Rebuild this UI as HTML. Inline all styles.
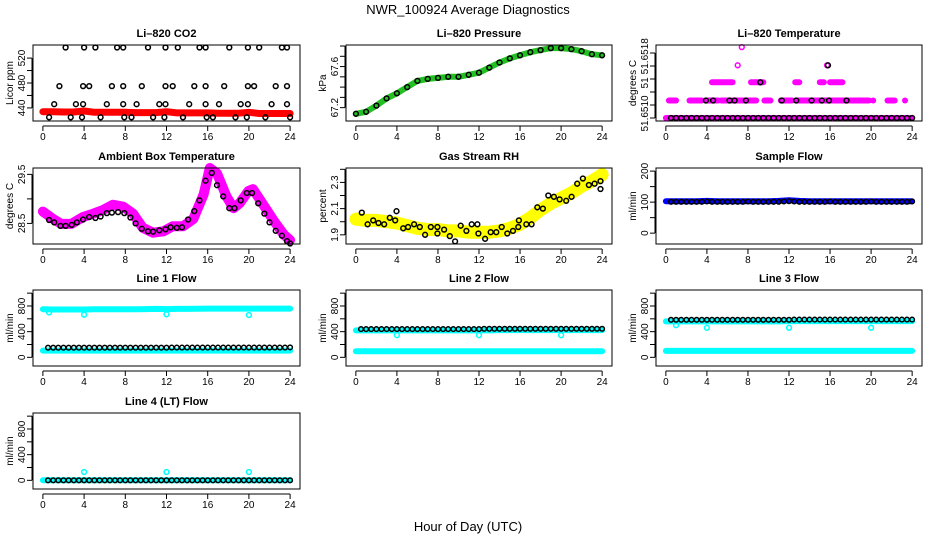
<!DOCTYPE html>
<html><head><meta charset="utf-8">
<style>
html,body{margin:0;padding:0;background:#fff;}
svg{display:block;font-family:"Liberation Sans",Arial,sans-serif;}
</style></head>
<body>
<svg id="chart" width="936" height="540" viewBox="0 0 936 540" xmlns="http://www.w3.org/2000/svg">
<rect width="936" height="540" fill="#fff"/>
<text x="468" y="14" text-anchor="middle" font-size="13">NWR_100924  Average Diagnostics</text>
<text x="468" y="531" text-anchor="middle" font-size="13">Hour of Day (UTC)</text>
</svg>
<script>
// ---------- data ----------
const xTicks = [0,4,8,12,16,20,24];
const hourly = [0,1,2,3,4,5,6,7,8,9,10,11,12,13,14,15,16,17,18,19,20,21,22,23,24];
const halfHours = [0.5,1,1.5,2,2.5,3,3.5,4,4.5,5,5.5,6,6.5,7,7.5,8,8.5,9,9.5,10,10.5,11,11.5,12,12.5,13,13.5,14,14.5,15,15.5,16,16.5,17,17.5,18,18.5,19,19.5,20,20.5,21,21.5,22,22.5,23,23.5,24];

// CO2
const co2RedVals = [434,434,433.5,433.5,435,433,433,433,433,432.5,432.5,432.5,434,432,432,432,432,431.5,431.5,431.5,433,431,431,431,431];
const co2BlackHours = [2.2,4.0,5.1,7.2,7.8,10.2,11.9,13.1,15.2,15.8,18.1,19.9,21.0,23.2,23.7,
 1.6,3.9,4.5,6.7,7.8,9.6,11.9,12.6,14.7,15.8,17.6,19.9,20.5,22.6,23.7,
 1.1,3.2,3.9,6.2,7.8,9.1,11.3,11.9,14.2,15.8,17.1,19.2,19.9,22.2,23.7,
 0.6,2.7,3.8,5.6,7.9,8.6,10.7,11.8,13.6,15.9,16.5,18.7,19.8,21.6,24.0];
const co2BlackVals = [537,537,537,537,537,537,537,537,537,537,537,537,537,537,537,
 475,475,475,475,475,475,475,475,475,475,475,475,475,475,475,
 446,446,446,446,446,446,446,446,446,446,446,446,446,446,446,
 425,425,425,425,425,425,425,425,425,425,425,425,425,425,425];

// Pressure
const pressVals = [67.14,67.16,67.22,67.29,67.34,67.40,67.46,67.48,67.49,67.50,67.50,67.52,67.54,67.59,67.64,67.68,67.71,67.74,67.76,67.78,67.78,67.77,67.75,67.72,67.71];

// Li-820 temperature (discrete levels)
const tempMagStart = [0,0.3,2.3,3.9,5.4,8.0,9.6,11.2,12.7,15.3,18.0,20.2,21.6,23.3,4.5,8.3,12.6,15.0,16.0];
const tempMagEnd   = [24,1.0,3.5,5.1,7.8,8.8,10.2,12.3,15.0,17.8,19.8,20.2,22.3,23.3,6.5,9.5,13.0,15.4,17.2];
const tempMagVals  = [51.6510,51.65127,51.65127,51.65127,51.65127,51.65127,51.65127,51.65127,51.65127,51.65127,51.65127,51.65127,51.65127,51.65127,51.65155,51.65155,51.65155,51.65155,51.65155];
const tempMagPtHours = [7.0,15.7,7.4];
const tempMagPtVals = [51.65181,51.65181,51.65209];
const tempBlackHours = [3.9,4.6,6.2,6.7,7.8,11.3,12.7,14.2,15.2,15.9,17.6,9.2,15.8];
const tempBlackVals = [51.65127,51.65127,51.65127,51.65127,51.65127,51.65127,51.65127,51.65127,51.65127,51.65127,51.65127,51.65155,51.65181];

// Ambient box temperature
const ambHours = [0,1,1.8,2.75,3.9,4.9,5.8,6.8,7.8,8.75,9.7,10.7,11.7,12.6,13.6,14.6,15.6,16.2,16.9,17.8,18.5,19.1,19.95,20.4,21.4,22.4,23.4,24];
const ambVals = [28.74,28.59,28.49,28.49,28.63,28.70,28.77,28.88,28.84,28.70,28.41,28.31,28.34,28.44,28.44,28.59,29.09,29.63,29.52,29.06,28.81,28.91,29.16,29.20,28.88,28.56,28.27,28.16];
const ambBlackHours = [0.6,1.1,1.7,2.2,2.8,3.3,3.9,4.5,5.1,5.6,6.2,6.7,7.3,7.9,8.5,9.0,9.6,10.2,10.7,11.3,11.9,12.4,13.0,13.5,14.1,14.7,15.2,15.8,16.4,16.9,17.5,18.1,18.6,19.2,19.8,20.3,20.9,21.5,22.0,22.6,23.2,23.7,24.0];
const ambBlackVals = [28.57,28.52,28.45,28.45,28.47,28.52,28.58,28.63,28.61,28.64,28.71,28.72,28.73,28.71,28.62,28.50,28.39,28.34,28.33,28.36,28.38,28.42,28.41,28.42,28.58,28.75,28.97,29.37,29.53,29.28,29.05,28.81,28.81,28.97,29.12,29.12,28.91,28.70,28.52,28.35,28.25,28.14,28.09];

// Gas stream RH
const rhYellowHours = [0,1,2,3,4,5,6,7,8,9,10,11,12,13,14,15,16,17,18,19,20,21,22,23,24];
const rhYellowVals = [2.02,2.01,2.01,2.00,1.99,1.97,1.95,1.94,1.94,1.93,1.93,1.92,1.92,1.92,1.93,1.95,1.98,2.03,2.09,2.14,2.18,2.22,2.27,2.31,2.36];
const rhBlackHours = [0.58,1.14,1.69,2.21,2.76,3.31,3.83,3.96,4.61,5.09,5.68,6.23,6.75,7.30,7.95,7.95,8.60,9.15,9.67,10.22,10.77,11.29,11.84,11.94,12.59,13.14,13.69,14.21,14.76,15.31,15.83,15.89,16.61,17.13,17.68,18.23,18.75,19.30,19.85,20.50,21.02,21.57,22.12,22.71,23.26,23.84,23.84];
const rhBlackVals = [2.07,1.98,2.01,1.99,1.98,2.03,2.01,2.08,1.95,1.96,1.98,1.96,1.90,1.96,1.96,1.91,1.94,1.89,1.85,1.97,1.93,1.98,1.98,1.91,1.87,1.92,1.92,1.96,1.91,1.93,1.96,2.01,1.98,1.98,2.11,2.10,2.20,2.19,2.17,2.16,2.19,2.29,2.33,2.28,2.29,2.31,2.25];

// Sample flow
const sampleBlueVals = [103,103,103,103,104,103,103,103,103,103,103,104,106,104,103,103,103,103,103,103,103,103,103,103,103];
const sampleBlackVals = [101,101,101,101,101,101,101,102,101,101,101,101,101,101,101,102,101,101,101,101,101,101,102,103,102,101,101,101,101,101,101,102,101,101,101,101,101,101,101,102,101,101,101,101,101,101,101,102];

// Line flows
const line1CyanHigh = [750,745,745,745,745,748,748,748,750,750,752,755,752,755,755,758,760,760,760,760,760,760,760,760,760];
const line1CyanLow = [105,105,105,105,105,105,105,105,105,105,105,105,105,105,105,105,105,105,105,105,105,105,105,105,105];
const line1DipHours = [0.6,4.0,12.0,20.0];
const line1DipVals = [700,665,670,660];
const line1Black = [150,150,150,150,150,150,150,150,150,150,150,150,150,150,150,150,150,150,150,150,150,150,150,150,152,152,152,152,152,152,152,152,152,152,152,152,152,152,152,152,152,152,152,152,152,152,152,155];

const line2CyanHigh = [420,420,420,420,420,420,420,420,420,420,420,420,420,420,425,425,425,425,425,425,425,425,425,425,425];
const line2CyanLow = [95,95,95,95,95,95,95,95,95,95,95,95,95,95,95,95,95,95,95,95,95,95,95,95,95];
const line2DipHours = [4.0,12.0,20.0];
const line2DipVals = [345,345,345];
const line2Black = [440,440,440,440,440,440,440,440,440,440,440,440,440,440,440,440,440,440,440,440,440,440,440,440,445,445,445,445,445,445,445,445,445,445,445,445,445,445,445,445,445,445,445,445,445,445,445,445];

const line3CyanHigh = [560,560,560,560,560,560,560,560,560,560,560,560,565,565,565,565,565,565,565,565,565,565,565,565,565];
const line3CyanLow = [100,100,100,100,100,100,100,100,100,100,100,100,100,100,100,100,100,100,100,100,100,100,100,100,100];
const line3DipHours = [1.0,4.0,12.0,20.0];
const line3DipVals = [500,460,460,460];
const line3Black = [585,585,585,585,585,585,585,585,585,585,585,585,585,585,585,585,585,585,585,585,585,585,585,585,588,588,588,588,588,588,588,588,588,588,588,588,588,588,588,588,588,588,588,588,588,588,588,588];

const line4Cyan = [0,0,0,0,0,0,0,0,0,0,0,0,0,0,0,0,0,0,0,0,0,0,0,0,0];
const line4DipHours = [4.0,12.0,20.0];
const line4DipVals = [130,130,130];
const line4Black = [0,0,0,0,0,0,0,0,0,0,0,0,0,0,0,0,0,0,0,0,0,0,0,0,0,0,0,0,0,0,0,0,0,0,0,0,0,0,0,0,0,0,0,0,0,0,0,0];

// ---------- drawing ----------
const svg = document.getElementById('chart');
const NS = 'http://www.w3.org/2000/svg';
const colX = [[33,300],[346,612],[656,922]];
const rowY = [[45,121],[168,244],[290,366],[413,489]];

function mk(tag, attrs, parent){
  const e = document.createElementNS(NS, tag);
  for (const k in attrs) e.setAttribute(k, attrs[k]);
  (parent||svg).appendChild(e);
  return e;
}

function panel(col,row,key,title,ylab,ylim,ticks,labels,labelText){
  const [x0,x1] = colX[col], [y0,y1] = rowY[row];
  const g = mk('g',{});
  
  
  const xs = h => x0 + (h+0.96)/25.92*(x1-x0);
  const ys = v => y1 - (v-ylim[0])/(ylim[1]-ylim[0])*(y1-y0);
  const t = mk('text',{x:(x0+x1)/2,y:y0-8,'text-anchor':'middle','font-size':11,'font-weight':'bold'},g);
  t.textContent = title;
  
  
  const yl = mk('text',{x:0,y:0,'text-anchor':'middle','font-size':10,transform:`translate(${x0-20},${(y0+y1)/2}) rotate(-90)`},g);
  yl.textContent = ylab;
  
  
  const ax = mk('g',{stroke:'#000','stroke-width':1},g);
  
  
  mk('line',{x1:xs(0),x2:xs(24),y1:y1+5,y2:y1+5},ax);
  xTicks.forEach(v=>{
    mk('line',{x1:xs(v),x2:xs(v),y1:y1+5,y2:y1+10},ax);
    const tl = mk('text',{x:xs(v),y:y1+19,'text-anchor':'middle','font-size':10,stroke:'none'},ax);
    tl.textContent = v;
    
    
  });
  const ay = mk('g',{stroke:'#000','stroke-width':1},g);
  
  
  mk('line',{x1:x0-1,x2:x0-1,y1:ys(ticks[0]),y2:ys(ticks[ticks.length-1])},ay);
  ticks.forEach(v=>{ mk('line',{x1:x0-6,x2:x0-1,y1:ys(v),y2:ys(v)},ay); });
  labels.forEach((v,i)=>{
    const tl = mk('text',{x:0,y:0,'text-anchor':'middle','font-size':10,stroke:'none',transform:`translate(${x0-8},${ys(v)}) rotate(-90)`},ay);
    tl.textContent = labelText ? labelText[i] : v;
    
    
  });
  const box = mk('rect',{x:x0,y:y0,width:x1-x0,height:y1-y0,fill:'none',stroke:'#000','stroke-width':1});
  
  
  const plot = mk('g',{},g);
  
  
  svg.insertBefore(g, box);
  return {xs,ys,g:plot};
}

function band(P,hours,vals,color,w,name){
  const pts = hours.map((h,i)=>P.xs(h).toFixed(1)+','+P.ys(vals[i]).toFixed(1)).join(' ');
  const e = mk('polyline',{points:pts,fill:'none',stroke:color,'stroke-width':w,'stroke-linecap':'round','stroke-linejoin':'round'},P.g);
  
  
}
function pts(P,hours,vals,color,name,r){
  const g = mk('g',{fill:'none',stroke:color,'stroke-width':1.5},P.g);
  
  
  hours.forEach((h,i)=>{
    const c = mk('circle',{cx:P.xs(h).toFixed(1),cy:P.ys(vals[i]).toFixed(1),r:r||2.4},g);
    
    
  });
}

// CO2
let P = panel(0,0,'co2','Li\u2013820 CO2','Licor ppm',[419,541],[440,460,480,500,520],[440,480,520]);
band(P,hourly,co2RedVals,'#ff0000',7,'co2-red-series');
pts(P,hourly,co2RedVals,'#ff0000','co2-red-points');
pts(P,co2BlackHours,co2BlackVals,'#000','co2-black-points');

// Pressure
P = panel(1,0,'pressure','Li\u2013820 Pressure','kPa',[67.07,67.81],[67.2,67.3,67.4,67.5,67.6,67.7,67.8],[67.2,67.6]);
band(P,hourly,pressVals,'#22c022',6,'pressure-green-series');
pts(P,hourly,pressVals,'#000','pressure-black-points');

// Li-820 Temperature
P = panel(2,0,'li820-temp','Li\u2013820 Temperature','degrees C',[51.650954,51.652123],[51.6510,51.6512,51.6514,51.6516,51.6518,51.6520],[51.65107,51.65154,51.65195],['51.6510','51','51.6518']);
tempMagStart.forEach((s,i)=>{
  band(P,[s,tempMagEnd[i]],[tempMagVals[i],tempMagVals[i]],'#ff00ff',6,'li820-temp-magenta-run');
});
pts(P,tempMagPtHours,tempMagPtVals,'#ff00ff','li820-temp-magenta-points');
pts(P,halfHours,halfHours.map(()=>51.6510),'#000','li820-temp-black-base-points');
pts(P,tempBlackHours,tempBlackVals,'#000','li820-temp-black-points');

// Ambient
P = panel(0,1,'ambient','Ambient Box Temperature','degrees C',[28.08,29.63],[28.5,29.0,29.5],[28.5,29.5]);
band(P,ambHours,ambVals,'#ff00ff',10,'ambient-magenta-series');
pts(P,ambBlackHours,ambBlackVals,'#000','ambient-black-points');

// RH
P = panel(1,1,'gas-rh','Gas Stream RH','percent',[1.83,2.41],[1.9,2.0,2.1,2.2,2.3,2.4],[1.9,2.1,2.3]);
band(P,rhYellowHours,rhYellowVals,'#ffff00',13,'gas-rh-yellow-series');
pts(P,rhBlackHours,rhBlackVals,'#000','gas-rh-black-points');

// Sample flow
P = panel(2,1,'sample-flow','Sample Flow','ml/min',[-35,210],[0,50,100,150,200],[0,100,200]);
band(P,hourly,sampleBlueVals,'#0000ff',6,'sample-flow-blue-series');
pts(P,halfHours,sampleBlackVals,'#000','sample-flow-black-points',2.3);

// Line flows
const fl = [-135,1049], ft = [0,200,400,600,800,1000], fL = [0,400,800];
P = panel(0,2,'line1-flow','Line 1 Flow','ml/min',fl,ft,fL);
band(P,hourly,line1CyanHigh,'#00ffff',6,'line1-cyan-high-series');
band(P,hourly,line1CyanLow,'#00ffff',6,'line1-cyan-low-series');
pts(P,line1DipHours,line1DipVals,'#00ffff','line1-cyan-dips');
pts(P,halfHours,line1Black,'#000','line1-black-points',2.3);

P = panel(1,2,'line2-flow','Line 2 Flow','ml/min',fl,ft,fL);
band(P,hourly,line2CyanHigh,'#00ffff',6,'line2-cyan-high-series');
band(P,hourly,line2CyanLow,'#00ffff',6,'line2-cyan-low-series');
pts(P,line2DipHours,line2DipVals,'#00ffff','line2-cyan-dips');
pts(P,halfHours,line2Black,'#000','line2-black-points',2.3);

P = panel(2,2,'line3-flow','Line 3 Flow','ml/min',fl,ft,fL);
band(P,hourly,line3CyanHigh,'#00ffff',6,'line3-cyan-high-series');
band(P,hourly,line3CyanLow,'#00ffff',6,'line3-cyan-low-series');
pts(P,line3DipHours,line3DipVals,'#00ffff','line3-cyan-dips');
pts(P,halfHours,line3Black,'#000','line3-black-points',2.3);

P = panel(0,3,'line4-flow','Line 4 (LT) Flow','ml/min',fl,ft,fL);
band(P,hourly,line4Cyan,'#00ffff',6,'line4-cyan-series');
pts(P,line4DipHours,line4DipVals,'#00ffff','line4-cyan-dips');
pts(P,halfHours,line4Black,'#000','line4-black-points',2.3);
</script>
</body></html>
